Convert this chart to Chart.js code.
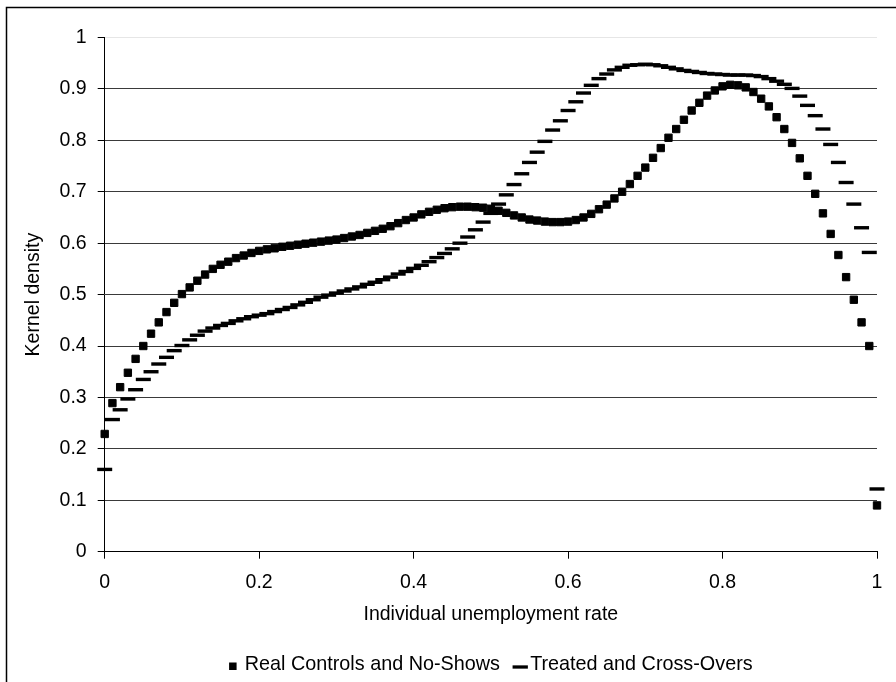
<!DOCTYPE html>
<html>
<head>
<meta charset="utf-8">
<title>Kernel density</title>
<script src="https://cdn.jsdelivr.net/npm/chart.js@4"></script>
<style>
  html, body { margin: 0; padding: 0; background: #fff; }
  #wrap { width: 896px; height: 682px; position: relative; }
</style>
</head>
<body>
<div id="wrap"><canvas id="densityChart"></canvas></div>
<script>
// Individual unemployment rate (x)
const rates = [
  0.00, 0.01, 0.02, 0.03, 0.04, 0.05, 0.06, 0.07, 0.08, 0.09,
  0.10, 0.11, 0.12, 0.13, 0.14, 0.15, 0.16, 0.17, 0.18, 0.19,
  0.20, 0.21, 0.22, 0.23, 0.24, 0.25, 0.26, 0.27, 0.28, 0.29,
  0.30, 0.31, 0.32, 0.33, 0.34, 0.35, 0.36, 0.37, 0.38, 0.39,
  0.40, 0.41, 0.42, 0.43, 0.44, 0.45, 0.46, 0.47, 0.48, 0.49,
  0.50, 0.51, 0.52, 0.53, 0.54, 0.55, 0.56, 0.57, 0.58, 0.59,
  0.60, 0.61, 0.62, 0.63, 0.64, 0.65, 0.66, 0.67, 0.68, 0.69,
  0.70, 0.71, 0.72, 0.73, 0.74, 0.75, 0.76, 0.77, 0.78, 0.79,
  0.80, 0.81, 0.82, 0.83, 0.84, 0.85, 0.86, 0.87, 0.88, 0.89,
  0.90, 0.91, 0.92, 0.93, 0.94, 0.95, 0.96, 0.97, 0.98, 0.99,
  1.00
];

// Real Controls and No-Shows
const realControls = [
  0.229, 0.289, 0.320, 0.348, 0.375, 0.400, 0.424, 0.446, 0.466, 0.484,
  0.501, 0.514, 0.527, 0.539, 0.550, 0.558, 0.564, 0.571, 0.576, 0.581,
  0.585, 0.588, 0.590, 0.593, 0.595, 0.597, 0.599, 0.601, 0.603, 0.605,
  0.607, 0.610, 0.613, 0.616, 0.620, 0.624, 0.628, 0.633, 0.639, 0.645,
  0.650, 0.656, 0.661, 0.665, 0.668, 0.670, 0.671, 0.671, 0.670, 0.669,
  0.667, 0.663, 0.659, 0.654, 0.650, 0.646, 0.644, 0.642, 0.641, 0.641,
  0.642, 0.645, 0.650, 0.657, 0.666, 0.675, 0.687, 0.700, 0.715, 0.731,
  0.747, 0.766, 0.785, 0.805, 0.822, 0.840, 0.858, 0.873, 0.887, 0.897,
  0.905, 0.908, 0.907, 0.903, 0.894, 0.881, 0.866, 0.845, 0.822, 0.795,
  0.765, 0.731, 0.696, 0.658, 0.618, 0.577, 0.534, 0.490, 0.446, 0.400,
  0.090
];

// Treated and Cross-Overs
const treatedCrossOvers = [
  0.160, 0.257, 0.276, 0.297, 0.315, 0.335, 0.350, 0.365, 0.378, 0.391,
  0.401, 0.412, 0.421, 0.429, 0.435, 0.440, 0.444, 0.449, 0.453, 0.457,
  0.460, 0.463, 0.467, 0.471, 0.475, 0.480, 0.485, 0.490, 0.495, 0.499,
  0.503, 0.507, 0.511, 0.515, 0.520, 0.524, 0.529, 0.534, 0.540, 0.545,
  0.551, 0.557, 0.564, 0.572, 0.580, 0.589, 0.600, 0.612, 0.626, 0.641,
  0.658, 0.676, 0.694, 0.714, 0.735, 0.757, 0.777, 0.798, 0.820, 0.838,
  0.858, 0.875, 0.892, 0.907, 0.920, 0.929, 0.937, 0.942, 0.946, 0.947,
  0.948, 0.947, 0.945, 0.942, 0.939, 0.936, 0.934, 0.932, 0.930, 0.929,
  0.928, 0.927, 0.927, 0.927, 0.926, 0.924, 0.920, 0.915, 0.909, 0.901,
  0.886, 0.868, 0.848, 0.822, 0.792, 0.757, 0.718, 0.676, 0.630, 0.582,
  0.122
];

const seriesNames = ['Real Controls and No-Shows', 'Treated and Cross-Overs'];
const xTitle = 'Individual unemployment rate';
const yTitle = 'Kernel density';

const FONT = "'Liberation Sans', Arial, sans-serif";

function toPoints(ys) {
    return rates.map((x, i) => ({x: x, y: ys[i]}));
}

// 0, 0.2, ... 1 without trailing zeros
function tickLabel(value) {
    return String(parseFloat(value.toFixed(2)));
}

// Outer frame (only top and left edges are visible in the original)
const framePlugin = {
    id: 'frame',
    afterDraw(chart) {
        const ctx = chart.ctx;
        ctx.save();
        ctx.strokeStyle = '#000';
        ctx.lineWidth = 1.5;
        ctx.beginPath();
        ctx.moveTo(6.5, 682);
        ctx.lineTo(6.5, 7.5);
        ctx.lineTo(896, 7.5);
        ctx.stroke();
        ctx.restore();
    }
};

// Legend below the axis title, centred on the plot area
const legendPlugin = {
    id: 'bottomLegend',
    afterDraw(chart) {
        const ctx = chart.ctx;
        const area = chart.chartArea;
        ctx.save();
        ctx.font = '19.8px ' + FONT;
        ctx.fillStyle = '#000';
        ctx.strokeStyle = '#000';
        ctx.textBaseline = 'middle';
        ctx.textAlign = 'left';
        const w1 = ctx.measureText(seriesNames[0]).width;
        const w2 = ctx.measureText(seriesNames[1]).width;
        const total = 7.5 + 8.2 + w1 + 12.7 + 15.3 + 2.3 + w2;
        let x = (area.left + area.right) / 2 - total / 2;
        const y = 665;
        ctx.fillRect(x, y - 2.5, 7.5, 7.5);
        x += 7.5 + 8.2;
        ctx.fillText(seriesNames[0], x, y);
        x += w1 + 12.7;
        ctx.lineWidth = 3.3;
        ctx.beginPath();
        ctx.moveTo(x, y + 2);
        ctx.lineTo(x + 15.3, y + 2);
        ctx.stroke();
        x += 15.3 + 2.3;
        ctx.fillText(seriesNames[1], x, y);
        ctx.restore();
    }
};

const ctx = document.getElementById('densityChart').getContext('2d');
new Chart(ctx, {
    type: 'scatter',
    data: {
        datasets: [
            {
                label: seriesNames[0],
                data: toPoints(realControls),
                pointStyle: 'rect',
                pointRadius: 5.2,
                pointBorderWidth: 1,
                backgroundColor: '#000',
                borderColor: '#000',
                showLine: false,
                clip: false
            },
            {
                label: seriesNames[1],
                data: toPoints(treatedCrossOvers),
                pointStyle: 'line',
                pointRadius: 7.5,
                pointBorderWidth: 3.4,
                backgroundColor: '#000',
                borderColor: '#000',
                showLine: false,
                clip: false
            }
        ]
    },
    options: {
        responsive: true,
        maintainAspectRatio: false,
        animation: false,
        events: [],
        layout: {
            padding: {left: 6, right: 19, top: 37.5, bottom: 51.3}
        },
        plugins: {
            legend: {display: false},
            tooltip: {enabled: false}
        },
        scales: {
            x: {
                type: 'linear',
                min: 0,
                max: 1,
                afterFit(scale) { scale.height = 79; },
                ticks: {
                    stepSize: 0.2,
                    color: '#000',
                    padding: 12.3,
                    maxRotation: 0,
                    callback: tickLabel,
                    font: {family: FONT, size: 19.5}
                },
                grid: {
                    drawOnChartArea: false,
                    drawTicks: true,
                    tickLength: 7,
                    tickColor: '#000'
                },
                border: {display: true, color: '#000', width: 1},
                title: {
                    display: true,
                    text: xTitle,
                    color: '#000',
                    padding: {top: 4, bottom: 4},
                    font: {family: FONT, size: 19.5}
                }
            },
            y: {
                min: 0,
                max: 1,
                afterFit(scale) { scale.width = 98.7; },
                ticks: {
                    stepSize: 0.1,
                    color: '#000',
                    padding: 11,
                    callback: tickLabel,
                    font: {family: FONT, size: 19.5}
                },
                grid: {
                    color: c => (c.tick && c.tick.value === 1) ? '#e6e6e6' : '#3a3a3a',
                    tickColor: '#000',
                    tickLength: 7,
                    lineWidth: 1
                },
                border: {display: true, color: '#000', width: 1},
                title: {
                    display: true,
                    text: yTitle,
                    color: '#000',
                    padding: {top: 16.3, bottom: 4},
                    font: {family: FONT, size: 19.5}
                }
            }
        }
    },
    plugins: [framePlugin, legendPlugin]
});
</script>
</body>
</html>
